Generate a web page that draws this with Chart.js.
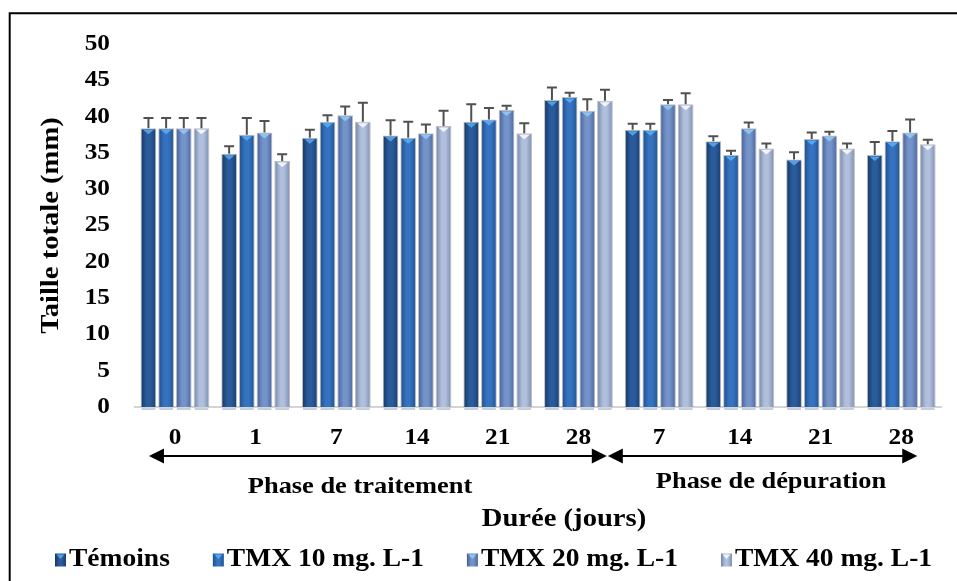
<!DOCTYPE html>
<html>
<head>
<meta charset="utf-8">
<script src="https://cdn.jsdelivr.net/npm/chart.js@4.4.1/dist/chart.umd.min.js"></script>
<style>
  html, body { margin: 0; padding: 0; background: #fff; }
  #wrap { width: 957px; height: 581px; position: relative; }
  canvas { display: block; }
</style>
</head>
<body>
<div id="wrap"><canvas id="c" width="957" height="581"></canvas></div>
<script>
// Sampling days (two phases share the same day numbers)
const days = ['0', '1', '7', '14', '21', '28', '7', '14', '21', '28'];
const seriesNames = ['Témoins', 'TMX 10 mg. L-1', 'TMX 20 mg. L-1', 'TMX 40 mg. L-1'];

// Mean total length (mm)
const temoins = [38.4, 34.9, 37.1, 37.4, 39.3, 42.3, 38.2, 36.6, 34.1, 34.7];
const tmx10   = [38.4, 37.5, 39.3, 37.1, 39.6, 42.7, 38.2, 34.7, 36.9, 36.6];
const tmx20   = [38.4, 37.8, 40.2, 37.7, 40.9, 40.8, 41.7, 38.4, 37.4, 37.8];
const tmx40   = [38.4, 33.9, 39.3, 38.7, 37.7, 42.2, 41.7, 35.6, 35.6, 36.2];

// Standard deviations
const sdTemoins = [1.4, 1.0, 1.1, 2.1, 2.4, 1.7, 0.8, 0.7, 1.0, 1.8];
const sdTmx10   = [1.4, 2.3, 0.9, 2.2, 1.6, 0.6, 0.8, 0.6, 0.9, 1.4];
const sdTmx20   = [1.4, 1.6, 1.2, 1.2, 0.6, 1.6, 0.6, 0.8, 0.5, 1.8];
const sdTmx40   = [1.4, 0.9, 2.6, 2.1, 1.4, 1.5, 1.5, 0.7, 0.7, 0.6];

// Y axis range
const yMin = 0, yMax = 50, yStep = 5;

const values = [temoins, tmx10, tmx20, tmx40];
const errors = [sdTemoins, sdTmx10, sdTmx20, sdTmx40];

const FONT = '"Liberation Serif", "Times New Roman", serif';
const TEXT_STRETCH = 1.1;

// Cylinder-like shading per series: edge, highlight, edge, tip triangle
const shades = [
  { edge: '#163660', light: '#2a5b9b', edge2: '#1a3f71', tip: '#4f9fe4' },
  { edge: '#1f4d8b', light: '#3573c0', edge2: '#225390', tip: '#52a8ee' },
  { edge: '#435f98', light: '#7493c8', edge2: '#4a679f', tip: '#8cc4f0' },
  { edge: '#7284a8', light: '#b0bfdb', edge2: '#7b8db1', tip: '#f0f5fc' }
];

const canvas = document.getElementById('c');
const g = canvas.getContext('2d');

// Wide-set bold serif lettering: stretch every label along its writing direction
const nativeFill = CanvasRenderingContext2D.prototype.fillText;
g.fillText = function (text, x, y, maxWidth) {
  this.save();
  this.translate(x, y);
  this.scale(TEXT_STRETCH, 1);
  if (maxWidth === undefined || maxWidth === null) nativeFill.call(this, text, 0, 0);
  else nativeFill.call(this, text, 0, 0, maxWidth / TEXT_STRETCH);
  this.restore();
};

function barGradient(c, left, width, s) {
  const gr = c.createLinearGradient(left, 0, left + width, 0);
  gr.addColorStop(0, s.edge);
  gr.addColorStop(0.38, s.light);
  gr.addColorStop(0.62, s.light);
  gr.addColorStop(1, s.edge2);
  return gr;
}

// Gradient fill for the bars, computed from each bar's own geometry
const barShading = {
  id: 'barShading',
  beforeDatasetsDraw(chart) {
    chart.data.datasets.forEach((ds, di) => {
      chart.getDatasetMeta(di).data.forEach(bar => {
        const { x, width } = bar.getProps(['x', 'width'], true);
        bar.options.backgroundColor = barGradient(chart.ctx, x - width / 2, width, shades[di]);
      });
    });
  },
  afterDatasetsDraw(chart) {
    const c = chart.ctx;
    const ys = chart.scales.y;
    c.save();
    chart.data.datasets.forEach((ds, di) => {
      const s = shades[di];
      chart.getDatasetMeta(di).data.forEach((bar, i) => {
        const { x, y, base, width } = bar.getProps(['x', 'y', 'base', 'width'], true);
        const left = x - width / 2;
        // reflection under the base
        c.fillStyle = 'rgba(150,165,190,0.55)';
        c.fillRect(left + 1, base + 1, width - 2, 2);
        // downward tip triangle at the top of the bar
        c.fillStyle = s.tip;
        c.beginPath();
        c.moveTo(left + 2.5, y + 1.5);
        c.lineTo(left + width - 2.5, y + 1.5);
        c.lineTo(x, y + 6);
        c.closePath();
        c.fill();
        // error bar
        const yTop = ys.getPixelForValue(ds.data[i] + errors[di][i]);
        c.strokeStyle = '#505050';
        c.lineWidth = 2;
        c.beginPath();
        c.moveTo(x, y);
        c.lineTo(x, yTop);
        c.moveTo(x - 5, yTop);
        c.lineTo(x + 5, yTop);
        c.stroke();
      });
    });
    c.restore();
  }
};

function arrowHead(c, tipX, y, dir) {
  c.beginPath();
  c.moveTo(tipX, y);
  c.lineTo(tipX - dir * 15, y - 7.5);
  c.lineTo(tipX - dir * 15, y + 7.5);
  c.closePath();
  c.fill();
}

// Phase arrows, phase names, axis title, legend and frame
const annotations = {
  id: 'annotations',
  afterDraw(chart) {
    const c = chart.ctx;
    const xs = chart.scales.x;
    const step = xs.getPixelForValue(1) - xs.getPixelForValue(0);
    const a0 = xs.getPixelForValue(0) - 26;
    const aMid = xs.getPixelForValue(5) + step / 2 - 12;
    const a1 = xs.getPixelForValue(9) + 16;
    const ay = 456;
    c.save();
    c.fillStyle = '#000';
    c.strokeStyle = '#000';
    c.lineWidth = 2;
    c.beginPath();
    c.moveTo(a0 + 10, ay);
    c.lineTo(aMid - 10, ay);
    c.moveTo(aMid + 10, ay);
    c.lineTo(a1 - 10, ay);
    c.stroke();
    arrowHead(c, a0, ay, -1);
    arrowHead(c, aMid, ay, 1);
    arrowHead(c, aMid + 1, ay, -1);
    arrowHead(c, a1, ay, 1);

    c.textAlign = 'center';
    c.textBaseline = 'middle';
    c.font = 'bold 24px ' + FONT;
    c.fillText('Phase de traitement', 360, 487);
    c.fillText('Phase de dépuration', 771, 482);
    c.font = 'bold 26px ' + FONT;
    c.fillText('Durée (jours)', 564, 519);

    // legend
    c.font = 'bold 25px ' + FONT;
    c.textAlign = 'left';
    let lx = 55;
    const ly = 560;
    seriesNames.forEach((name, k) => {
      const s = shades[k];
      const bw = 11, bh = 13;
      c.fillStyle = barGradient(c, lx, bw, s);
      c.fillRect(lx, ly - bh / 2, bw, bh);
      c.fillStyle = s.tip;
      c.beginPath();
      c.moveTo(lx + 1.5, ly - bh / 2 + 1);
      c.lineTo(lx + bw - 1.5, ly - bh / 2 + 1);
      c.lineTo(lx + bw / 2, ly - bh / 2 + 5.5);
      c.closePath();
      c.fill();
      c.fillStyle = '#000';
      const tx = lx + bw + 3;
      c.fillText(name, tx, ly);
      lx = tx + c.measureText(name).width * TEXT_STRETCH + 43;
    });

    // frame
    c.strokeStyle = '#000';
    c.lineWidth = 2;
    c.beginPath();
    c.moveTo(9.7, 600);
    c.lineTo(9.7, 13.3);
    c.lineTo(960, 13.3);
    c.stroke();
    c.restore();
  }
};

const chart = new Chart(g, {
  type: 'bar',
  data: {
    labels: days,
    datasets: seriesNames.map((name, k) => ({
      label: name,
      data: values[k],
      backgroundColor: () => shades[k].light,
      borderColor: 'rgba(110,110,110,0.45)',
      borderWidth: 1,
      categoryPercentage: 0.876,
      barPercentage: 0.89
    }))
  },
  options: {
    responsive: false,
    animation: false,
    devicePixelRatio: 1,
    layout: { padding: { left: 0, top: 44, right: 15.4, bottom: 0 } },
    plugins: { legend: { display: false }, tooltip: { enabled: false } },
    scales: {
      x: {
        grid: { display: false, drawTicks: false },
        border: { display: true, color: '#d4d4d4', width: 2 },
        ticks: {
          autoSkip: false, maxRotation: 0, padding: 17.2, color: '#000',
          font: { family: FONT, size: 23, weight: 'bold' }
        },
        afterFit(s) { s.height = 174; }
      },
      y: {
        min: yMin, max: yMax,
        grid: { display: false, drawTicks: false },
        border: { display: false },
        ticks: {
          stepSize: yStep, padding: 24.6, color: '#000',
          font: { family: FONT, size: 23, weight: 'bold' }
        },
        title: {
          display: true, text: 'Taille totale (mm)', color: '#000',
          font: { family: FONT, size: 26, weight: 'bold' },
          padding: { top: 35.4, bottom: 0 }
        },
        afterFit(s) { s.width = 134.6; }
      }
    }
  },
  plugins: [barShading, annotations]
});
</script>
</body>
</html>
